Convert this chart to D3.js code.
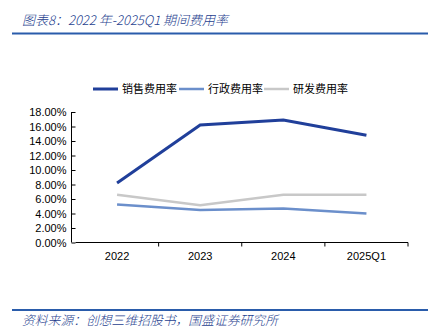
<!DOCTYPE html>
<html><head><meta charset="utf-8">
<script src="https://cdn.jsdelivr.net/npm/d3@7"></script>
<style>body{margin:0;background:#fff}svg{display:block}</style>
</head><body>
<svg id="c" width="437" height="333"></svg>
<script>
const categories = ["2022", "2023", "2024", "2025Q1"];
const salesRate = [8.2, 16.2, 16.9, 14.8];
const adminRate = [5.25, 4.5, 4.7, 4.0];
const rdRate = [6.6, 5.15, 6.6, 6.6];
const seriesNames = ["销售费用率", "行政费用率", "研发费用率"];
const yTicks = [0, 2, 4, 6, 8, 10, 12, 14, 16, 18];
const colors = ["#203f9a", "#6b8fcb", "#c8c8c8"];
const widths = [3, 2.5, 2.5];

const svg = d3.select("#c");
const cjk = "'Noto Sans CJK SC', sans-serif";
const lat = "'Liberation Sans', Arial, sans-serif";

// title
svg.append("text").attr("x", 22).attr("y", 25)
  .attr("font-family", cjk).attr("font-style", "italic").attr("font-size", 13).attr("font-weight", 300)
  .attr("fill", "#1f3f8f").text("图表8：2022 年-2025Q1 期间费用率");
svg.append("line").attr("x1", 12).attr("x2", 428).attr("y1", 33.5).attr("y2", 33.5)
  .attr("stroke", "#2a5cab").attr("stroke-width", 2);
// footer
svg.append("line").attr("x1", 12).attr("x2", 428).attr("y1", 310).attr("y2", 310)
  .attr("stroke", "#2a5cab").attr("stroke-width", 2);
svg.append("text").attr("x", 22).attr("y", 325)
  .attr("font-family", cjk).attr("font-style", "italic").attr("font-size", 12.8).attr("font-weight", 300)
  .attr("fill", "#1f3f8f").text("资料来源：创想三维招股书，国盛证券研究所");

const x = d3.scaleBand().domain(categories).range([75.5, 408]);
const y = d3.scaleLinear().domain([0, 18]).range([242.5, 112]);

const yAxis = d3.axisLeft(y).tickValues(yTicks).tickSize(4).tickPadding(5)
  .tickFormat(d => d.toFixed(2) + "%");
const gy = svg.append("g").attr("transform", "translate(75.5,0)").call(yAxis);
gy.select(".domain").attr("stroke", "#000").attr("d", "M-4,112V242.5");
gy.selectAll("text").attr("font-family", lat).attr("font-size", 11).attr("fill", "#000");

const xAxis = d3.axisBottom(x).tickSize(0).tickPadding(10);
const gx = svg.append("g").attr("transform", "translate(0,242.5)").call(xAxis);
gx.select(".domain").attr("stroke", "#000").attr("d", "M75.5,0H408");
gx.selectAll("text").attr("font-family", lat).attr("font-size", 11).attr("fill", "#000");
categories.forEach(c => {
  const bx = x(c) + x.bandwidth();
  gx.append("line").attr("x1", bx).attr("x2", bx).attr("y1", 0).attr("y2", 4).attr("stroke", "#000");
});

const line = d3.line().x((d, i) => x(categories[i]) + x.bandwidth() / 2).y(d => y(d));
const allSeries = [salesRate, adminRate, rdRate];
// draw order: rd, admin, sales
[2, 1, 0].forEach(k => {
  svg.append("path").datum(allSeries[k]).attr("d", line)
    .attr("fill", "none").attr("stroke", colors[k]).attr("stroke-width", widths[k]);
});

// legend
const legX = [93, 179, 264];
seriesNames.forEach((n, k) => {
  svg.append("line").attr("x1", legX[k]).attr("x2", legX[k] + 25).attr("y1", 89).attr("y2", 89)
    .attr("stroke", colors[k]).attr("stroke-width", widths[k]);
  svg.append("text").attr("x", legX[k] + 29).attr("y", 93)
    .attr("font-family", cjk).attr("font-size", 11).attr("fill", "#000").text(n);
});
</script>
</body></html>
